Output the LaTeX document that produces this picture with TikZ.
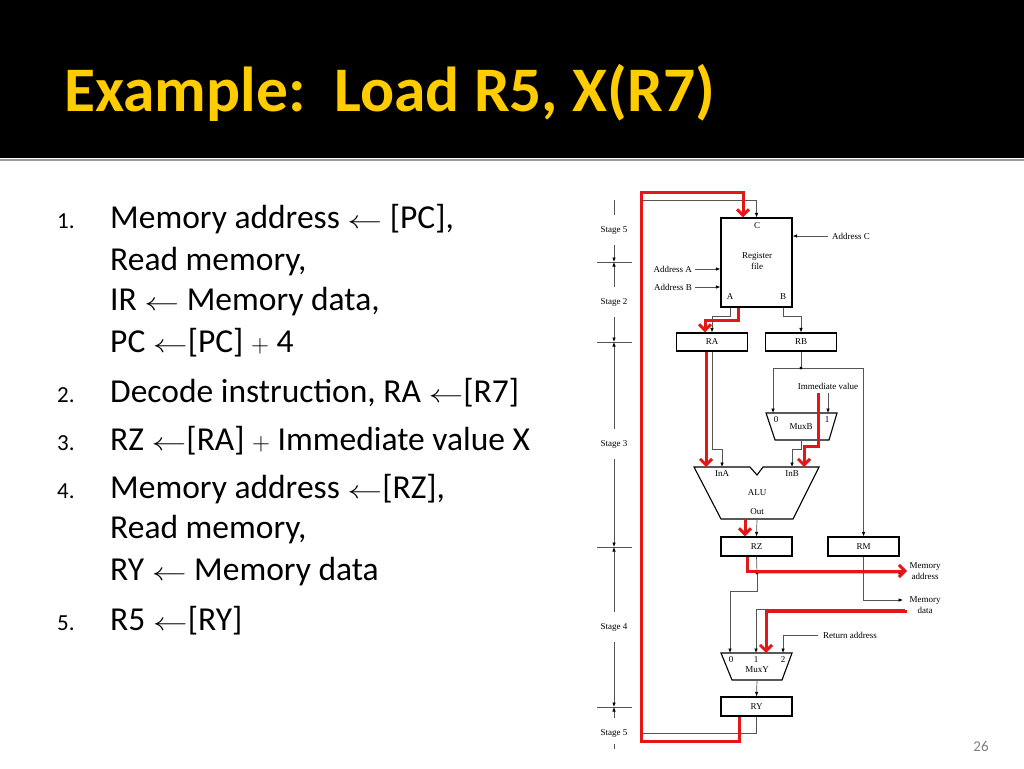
\documentclass[tikz,border=0pt]{standalone}
\usepackage{fontspec}
\setmainfont{Carlito}
\newfontfamily\figfont{Liberation Serif}
\usetikzlibrary{arrows.meta}
\definecolor{titlegold}{RGB}{255,204,0}
\definecolor{pathred}{RGB}{228,22,22}
\definecolor{wiregray}{RGB}{85,85,85}
\newcommand{\getsarrow}{\scalebox{1.4}[1]{$\leftarrow$}}
\tikzset{
  reg/.style={draw, line width=1.1pt, minimum width=71pt, minimum height=18pt, inner sep=0pt, font=\figfont\fontsize{9}{9}\selectfont},
  lbl/.style={inner sep=0pt, font=\figfont\fontsize{9}{10.5}\selectfont},
  stage/.style={lbl, inner ysep=11pt},
  wire/.style={draw=wiregray, line width=0.7pt, -{Latex[length=4.5pt,width=3.6pt,color=black]}},
  hot/.style={draw=pathred, line width=3pt, -{Straight Barb[length=6pt,width=12pt]}},
  item/.style={anchor=base west, inner sep=0pt, font=\fontsize{33.5}{33.5}\selectfont},
  num/.style={anchor=base west, inner sep=0pt, font=\fontsize{23}{23}\selectfont},
}
\begin{document}
\begin{tikzpicture}[x=1pt,y=-1pt]
  \useasboundingbox (0,0) rectangle (1024,768);
  \fill[black] (0,0) rectangle (1024,158);
  \draw[black!40, line width=2pt] (0,160) -- (1024,160);
  \node[anchor=base west, inner sep=0pt, text=titlegold, font=\bfseries\fontsize{63.5}{63.5}\selectfont] (title) at (64,111) {Example:\ \ Load R5, X(R7)};

  % steps
  \node[num] (n1) at (57,228) {1.};
  \node[item] (l1a) at (110,228) {Memory address \getsarrow\ [PC],};
  \node[item] (l1b) at (110,270) {Read memory,};
  \node[item] (l1c) at (110,310) {IR \getsarrow\ Memory data,};
  \node[item] (l1d) at (110,352) {PC \getsarrow[PC] $+$ 4};
  \node[num] (n2) at (57,402) {2.};
  \node[item] (l2) at (110,402) {Decode instruction, RA \getsarrow[R7]};
  \node[num] (n3) at (57,450) {3.};
  \node[item] (l3) at (110,450) {RZ \getsarrow[RA] $+$ Immediate value X};
  \node[num] (n4) at (57,498) {4.};
  \node[item] (l4a) at (110,498) {Memory address \getsarrow[RZ],};
  \node[item] (l4b) at (110,538) {Read memory,};
  \node[item] (l4c) at (110,580) {RY \getsarrow\ Memory data};
  \node[num] (n5) at (57,630) {5.};
  \node[item] (l5) at (110,630) {R5 \getsarrow[RY]};

  \node[font=\fontsize{15}{15}\selectfont, text=black!50] (pnum) at (981,746) {26};

  % stage axis
  \foreach \y/\n in {262/t1,342/t2,547/t3,707/t4} {
    \coordinate (\n) at (614,\y);
    \draw[wiregray, line width=0.7pt] (597,\y) -- (632,\y);
  }
  \coordinate (axtop) at (614,200);
  \coordinate (axbot) at (614,749);
  \node[stage] (st5a) at (614,230) {Stage 5};
  \node[stage] (st2) at (614,302) {Stage 2};
  \node[stage] (st3) at (614,444) {Stage 3};
  \node[stage] (st4) at (614,627) {Stage 4};
  \node[stage] (st5b) at (614,733) {Stage 5};
  \draw[wiregray, line width=0.7pt] (axtop) -- (st5a.north);
  \draw[wire] (st5a.south) -- (t1);
  \draw[wire] (st2.north) -- (t1);
  \draw[wire] (st2.south) -- (t2);
  \draw[wire] (st3.north) -- (t2);
  \draw[wire] (st3.south) -- (t3);
  \draw[wire] (st4.north) -- (t3);
  \draw[wire] (st4.south) -- (t4);
  \draw[wire] (st5b.north) -- (t4);
  \draw[wiregray, line width=0.7pt] ([yshift=4pt]st5b.south) -- (axbot);

  % register file
  \node[draw, line width=1.1pt, minimum width=71pt, minimum height=89pt, inner sep=0pt] (rf) at (756.5,262.5) {};
  \node[lbl] (rfC) at (757,226) {C};
  \node[lbl, align=center] (rfname) at (757,261) {Register\\file};
  \node[lbl] (rfA) at (730,297) {A};
  \node[lbl] (rfB) at (783,297) {B};
  \node[lbl, anchor=west] (addrC) at (832,236) {Address C};
  \node[lbl, anchor=east] (addrA) at (692,269) {Address A};
  \node[lbl, anchor=east] (addrB) at (692,287) {Address B};

  % registers
  \node[reg] (regA) at (712,342) {RA};
  \node[reg] (regB) at (801,342) {RB};
  \node[reg, minimum height=19pt] (regZ) at (756.5,546.5) {RZ};
  \node[reg, minimum height=19pt] (regM) at (863.5,546.5) {RM};
  \node[reg, minimum height=19pt] (regY) at (756.5,706.5) {RY};

  % MuxB
  \draw[line width=1.1pt] (766,413) -- (837,413) -- (829,440) -- (775,440) -- cycle;
  \node[lbl] (muxB) at (801,427) {MuxB};
  \node[lbl] (muxBl0) at (776,420) {0};
  \node[lbl] (muxBl1) at (827,420) {1};
  \coordinate (muxB0) at (773,413);
  \coordinate (muxB1) at (828,413);
  \coordinate (muxBout) at (801,440);
  \node[lbl] (imm) at (828,386) {Immediate value};

  % ALU
  \draw[line width=1.1pt] (694,467) -- (750,467) -- (757,475) -- (763,467) -- (819,467) -- (793,519) -- (721,519) -- cycle;
  \node[lbl] (alu) at (757,493) {ALU};
  \node[lbl] (inAl) at (722,474) {InA};
  \node[lbl] (inBl) at (792,474) {InB};
  \node[lbl] (outl) at (757,512) {Out};
  \coordinate (inA) at (722,467);
  \coordinate (inB) at (792,467);
  \coordinate (inBhot) at (804,467);
  \coordinate (aluOut) at (757,519);

  % memory side
  \node[lbl, align=center] (memA) at (925,571) {Memory\\address};
  \node[lbl, align=center] (memD) at (925,605) {Memory\\data};
  \node[lbl, anchor=west] (ret) at (823,635) {Return address};

  % MuxY
  \draw[line width=1.1pt] (721,653) -- (792,653) -- (782,680) -- (732,680) -- cycle;
  \node[lbl] (muxY) at (757,670) {MuxY};
  \node[lbl] (muxYl0) at (731,660) {0};
  \node[lbl] (muxYl1) at (756,660) {1};
  \node[lbl] (muxYl2) at (783,660) {2};
  \coordinate (muxY0) at (730,653);
  \coordinate (muxY1) at (756,653);
  \coordinate (muxY2) at (783,653);
  \coordinate (muxYhot) at (766,653);
  \coordinate (muxYout) at (757,680);

  % junctions
  \coordinate (jB) at (801,368);
  \coordinate (jZ) at (757,573);
  \coordinate (loopBL) at (641,733);
  \coordinate (loopTL) at (641,200);
  \coordinate (hotBL) at (641,741);
  \coordinate (hotTL) at (641,192);
  \coordinate (memAin) at (903,573);
  \coordinate (memDin) at (903,600);
  \coordinate (memDout) at (905,609);
  \coordinate (hotMA) at (907,571);
  \coordinate (hotMD) at (907,611);

  % datapath wires
  \draw[wire] (regY.south) |- (loopBL) -- (loopTL) -| (rf.north);
  \draw[wire] ([xshift=-4pt]addrC.west) -- (addrC.west -| rf.east);
  \draw[wire] ([xshift=3pt]addrA.east) -- (addrA.east -| rf.west);
  \draw[wire] ([xshift=3pt]addrB.east) -- (addrB.east -| rf.west);
  \draw[wire] (rfA |- rf.south) -- ++(0,9) -| (regA.north);
  \draw[wire] (rfB |- rf.south) -- ++(0,9) -| (regB.north);
  \draw[wire] (regA.south) -- ++(0,98) -| (inA);
  \draw[wire] (regB.south) -- (jB) -| (muxB0);
  \draw[wire] (jB) -| (regM.north);
  \fill[black] (jB) circle (1.6pt);
  \draw[wire] ([yshift=-4pt]imm.south) -- (muxB1);
  \draw[wire] (muxBout) -- ++(0,9) -| (inB);
  \draw[wire] (aluOut) -- (regZ.north);
  \draw[wire] (regZ.south) -- (jZ) -- (memAin);
  \draw[wire] (jZ) -- ++(0,18) -| (muxY0);
  \fill[black] (jZ) circle (1.6pt);
  \draw[wire] (regM.south) |- (memDin);
  \draw[wire] (memDout) -| (muxY1);
  \draw[wire] ([xshift=-5pt]ret.west) -| (muxY2);
  \draw[wire] (muxYout) -- (regY.north);

  % highlighted path
  \draw[hot] ([xshift=-17.5pt]regY.south) |- (hotBL) -- (hotTL) -| ([xshift=-13.5pt]rf.north);
  \draw[hot] ([xshift=8pt]rfA |- rf.south) -- ++(0,13) -| ([xshift=-7pt]regA.north);
  \draw[hot] ([xshift=-6pt]regA.south) -- ([xshift=-6pt]regA.south |- inA);
  \draw[hot] ([xshift=-10pt,yshift=-4pt]imm.south) -- ++(0,53) -| (inBhot);
  \draw[hot] ([xshift=-12pt]aluOut) -- ([xshift=-12pt]aluOut |- regZ.north);
  \draw[hot] ([xshift=-9.5pt]regZ.south) |- (hotMA);
  \draw[hot] (hotMD) -| (muxYhot);
\end{tikzpicture}
\end{document}
